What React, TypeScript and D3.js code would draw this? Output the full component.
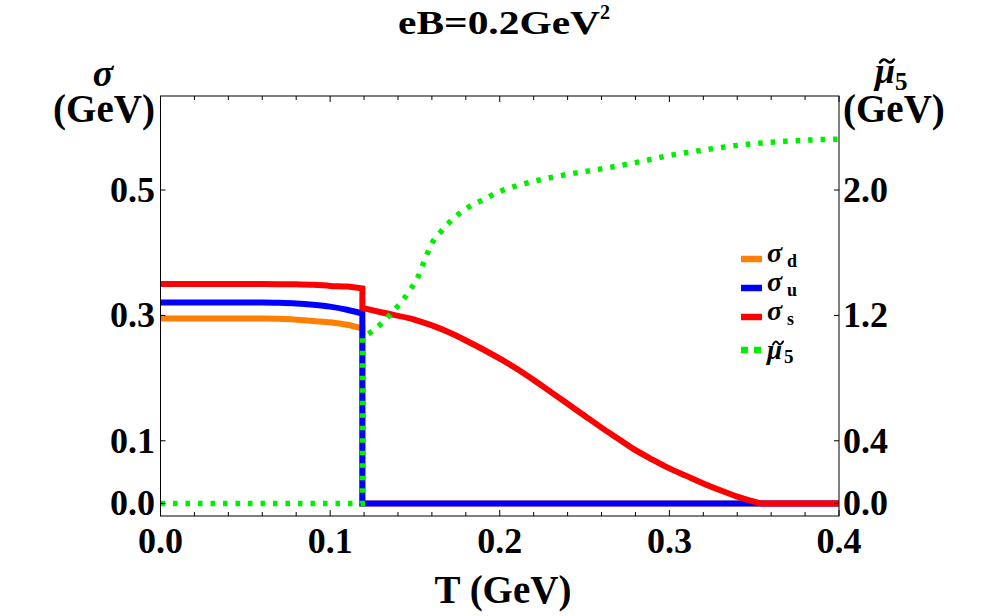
import { useEffect, useRef } from 'react'
import * as d3 from 'd3'

// T (GeV) grid and values
const tD = [0, 0.02, 0.04, 0.06, 0.07, 0.08, 0.09, 0.1, 0.11, 0.119, 0.119, 0.2, 0.3, 0.4]
const sigmaD = [0.295, 0.295, 0.295, 0.295, 0.2945, 0.293, 0.291, 0.289, 0.285, 0.279, 0, 0, 0, 0]

const tU = [0, 0.02, 0.04, 0.06, 0.07, 0.08, 0.09, 0.1, 0.11, 0.119, 0.119, 0.2, 0.3, 0.4]
const sigmaU = [0.3205, 0.3205, 0.3205, 0.3205, 0.32, 0.319, 0.317, 0.314, 0.309, 0.303, 0, 0, 0, 0]

const tS = [
  0, 0.02, 0.04, 0.06, 0.07, 0.08, 0.09, 0.1, 0.11, 0.119, 0.119, 0.13, 0.15, 0.16, 0.17, 0.18, 0.19, 0.2,
  0.21, 0.22, 0.23, 0.24, 0.25, 0.26, 0.27, 0.28, 0.29, 0.3, 0.31, 0.32, 0.33, 0.34, 0.35, 0.355, 0.4,
]
const sigmaS = [
  0.35, 0.35, 0.35, 0.35, 0.3498, 0.3495, 0.349, 0.347, 0.346, 0.343, 0.312, 0.305, 0.293, 0.284, 0.273, 0.26,
  0.246, 0.231, 0.215, 0.197, 0.178, 0.159, 0.14, 0.121, 0.103, 0.085, 0.07, 0.056, 0.044, 0.032, 0.021, 0.011,
  0.003, 0, 0,
]

const tMu = [
  0, 0.119, 0.119, 0.125, 0.135, 0.147, 0.152, 0.156, 0.16, 0.165, 0.17, 0.175, 0.18, 0.19, 0.2, 0.22, 0.24,
  0.26, 0.28, 0.3, 0.32, 0.34, 0.36, 0.38, 0.4,
]
const mu5 = [
  0, 0, 1.06, 1.1, 1.2, 1.36, 1.45, 1.56, 1.66, 1.73, 1.79, 1.84, 1.88, 1.937, 1.99, 2.055, 2.1, 2.135, 2.175,
  2.22, 2.255, 2.285, 2.305, 2.318, 2.325,
]

const xTicks = [0, 0.1, 0.2, 0.3, 0.4]
const xMinorTicks = d3.range(0, 0.4001, 0.02)
const yLeftTicks = [0, 0.1, 0.3, 0.5]
const yRightTicks = [0, 0.4, 1.2, 2.0]

const legendKeys = ['d', 'u', 's', '5']
const legendColors = ['#ff7f00', '#0000ff', '#ff0000', '#00ee00']

const FONT = 'Liberation Serif'

// smooth each piece between jumps, keep the jumps as straight vertical segments
function smoothPath(ts: number[], vs: number[], x: (v: number) => number, y: (v: number) => number) {
  const line = d3
    .line<[number, number]>()
    .x((d) => x(d[0]))
    .y((d) => y(d[1]))
    .curve(d3.curveMonotoneX)
  const segs: [number, number][][] = [[]]
  ts.forEach((t, i) => {
    const cur = segs[segs.length - 1]
    if (cur.length && cur[cur.length - 1][0] === t) segs.push([])
    segs[segs.length - 1].push([t, vs[i]])
  })
  return segs.map((s, i) => (i === 0 ? line(s) : (line(s) as string).replace(/^M/, 'L'))).join('')
}

function tilde(cx: number, cy: number, w: number) {
  const x0 = cx - w / 2
  return `M${x0},${cy + 1.5}Q${x0 + w / 4},${cy - 3.5} ${x0 + w / 2},${cy}Q${x0 + (3 * w) / 4},${cy + 3.5} ${x0 + w},${cy - 1.5}`
}

export default function App() {
  const ref = useRef<SVGSVGElement | null>(null)
  const width = 1000
  const height = 616

  useEffect(() => {
    document.body.style.margin = '0'
    const svg = d3.select(ref.current)
    svg.selectAll('*').remove()

    const left = 160.5
    const right = 839
    const top = 96
    const bottom = 516

    const x = d3.scaleLinear().domain([0, 0.4]).range([left, right])
    const y = d3.scaleLinear().domain([-0.02, 0.65]).range([bottom, top])
    const y2 = d3.scaleLinear().domain([-0.08, 2.6]).range([bottom, top])

    svg.append('rect').attr('width', width).attr('height', height).attr('fill', '#fff')

    svg
      .append('defs')
      .append('clipPath')
      .attr('id', 'plotclip')
      .append('rect')
      .attr('x', left)
      .attr('y', top)
      .attr('width', right - left)
      .attr('height', bottom - top)

    const lines = svg.append('g').attr('clip-path', 'url(#plotclip)')
    const solid = [
      { ts: tD, vs: sigmaD, color: legendColors[0] },
      { ts: tU, vs: sigmaU, color: legendColors[1] },
      { ts: tS, vs: sigmaS, color: legendColors[2] },
    ]
    solid.forEach((s) => {
      lines
        .append('path')
        .attr('d', smoothPath(s.ts, s.vs, x, y))
        .attr('fill', 'none')
        .attr('stroke', s.color)
        .attr('stroke-width', 6)
    })
    lines
      .append('path')
      .attr('d', smoothPath(tMu, mu5, x, y2))
      .attr('fill', 'none')
      .attr('stroke', legendColors[3])
      .attr('stroke-width', 5.5)
      .attr('stroke-dasharray', '4.5 8')

    // frame
    svg
      .append('rect')
      .attr('x', left)
      .attr('y', top)
      .attr('width', right - left)
      .attr('height', bottom - top)
      .attr('fill', 'none')
      .attr('stroke', '#000')
      .attr('stroke-width', 1)

    const ticks = svg.append('g').attr('stroke', '#000').attr('stroke-width', 1)
    xMinorTicks.forEach((t) => {
      const major = xTicks.some((m) => Math.abs(m - t) < 1e-6)
      const len = major ? 6 : 4
      ticks.append('line').attr('x1', x(t)).attr('x2', x(t)).attr('y1', bottom).attr('y2', bottom - len)
      ticks.append('line').attr('x1', x(t)).attr('x2', x(t)).attr('y1', top).attr('y2', top + len)
    })
    yLeftTicks.forEach((v) => {
      ticks.append('line').attr('x1', left).attr('x2', left + 5).attr('y1', y(v)).attr('y2', y(v))
    })
    yRightTicks.forEach((v) => {
      ticks.append('line').attr('x1', right).attr('x2', right - 5).attr('y1', y2(v)).attr('y2', y2(v))
    })

    const txt = (sel: d3.Selection<any, any, any, any>) =>
      sel.append('text').attr('font-family', FONT).attr('font-weight', 'bold').attr('fill', '#000')

    xTicks.forEach((t) => {
      txt(svg).attr('font-size', 36).attr('x', x(t)).attr('y', 553).attr('text-anchor', 'middle').text(t.toFixed(1))
    })
    yLeftTicks.forEach((v) => {
      txt(svg).attr('font-size', 36).attr('x', 155).attr('y', y(v) + 12).attr('text-anchor', 'end').text(v.toFixed(1))
    })
    yRightTicks.forEach((v) => {
      txt(svg).attr('font-size', 36).attr('x', 843).attr('y', y2(v) + 12).text(v.toFixed(1))
    })

    // axis labels
    txt(svg).attr('x', 503).attr('y', 602.7).attr('text-anchor', 'middle').attr('font-size', 39).text('T (GeV)')
    txt(svg)
      .attr('x', 103)
      .attr('y', 86)
      .attr('text-anchor', 'middle')
      .attr('font-size', 38)
      .attr('font-style', 'italic')
      .text('σ')
    txt(svg).attr('x', 104).attr('y', 122).attr('text-anchor', 'middle').attr('font-size', 39).text('(GeV)')

    txt(svg).attr('x', 875).attr('y', 83).attr('font-size', 36).attr('font-style', 'italic').text('μ')
    txt(svg).attr('x', 895).attr('y', 90).attr('font-size', 25).text('5')
    svg
      .append('path')
      .attr('d', tilde(887, 61, 14))
      .attr('fill', 'none')
      .attr('stroke', '#000')
      .attr('stroke-width', 2.6)
      .attr('stroke-linecap', 'round')
    txt(svg).attr('x', 843).attr('y', 122).attr('font-size', 39).text('(GeV)')

    // title
    const title = txt(svg).attr('x', 398).attr('y', 34)
    title
      .append('tspan')
      .attr('font-size', 33)
      .attr('textLength', 202)
      .attr('lengthAdjust', 'spacingAndGlyphs')
      .text('eB=0.2GeV')
    title.append('tspan').attr('x', 600).attr('y', 19).attr('font-size', 20).text('2')

    // legend
    const rows = [259, 288, 317, 350]
    legendKeys.forEach((k, i) => {
      const ry = rows[i]
      const sw = svg
        .append('line')
        .attr('x1', 741)
        .attr('x2', 762)
        .attr('y1', ry)
        .attr('y2', ry)
        .attr('stroke', legendColors[i])
        .attr('stroke-width', 6.5)
      if (k === '5') {
        sw.attr('stroke-dasharray', '7 6')
        txt(svg).attr('x', 767).attr('y', ry + 9).attr('font-size', 27).attr('font-style', 'italic').text('μ')
        txt(svg).attr('x', 784).attr('y', ry + 13).attr('font-size', 19).text('5')
        svg
          .append('path')
          .attr('d', tilde(778, ry - 7, 10))
          .attr('fill', 'none')
          .attr('stroke', '#000')
          .attr('stroke-width', 2)
          .attr('stroke-linecap', 'round')
      } else {
        txt(svg).attr('x', 767).attr('y', ry + 3).attr('font-size', 28).attr('font-style', 'italic').text('σ')
        txt(svg).attr('x', 787).attr('y', ry + 8).attr('font-size', 18).text(k)
      }
    })
  }, [])

  return <svg ref={ref} width={width} height={height} style={{ display: 'block' }} />
}
